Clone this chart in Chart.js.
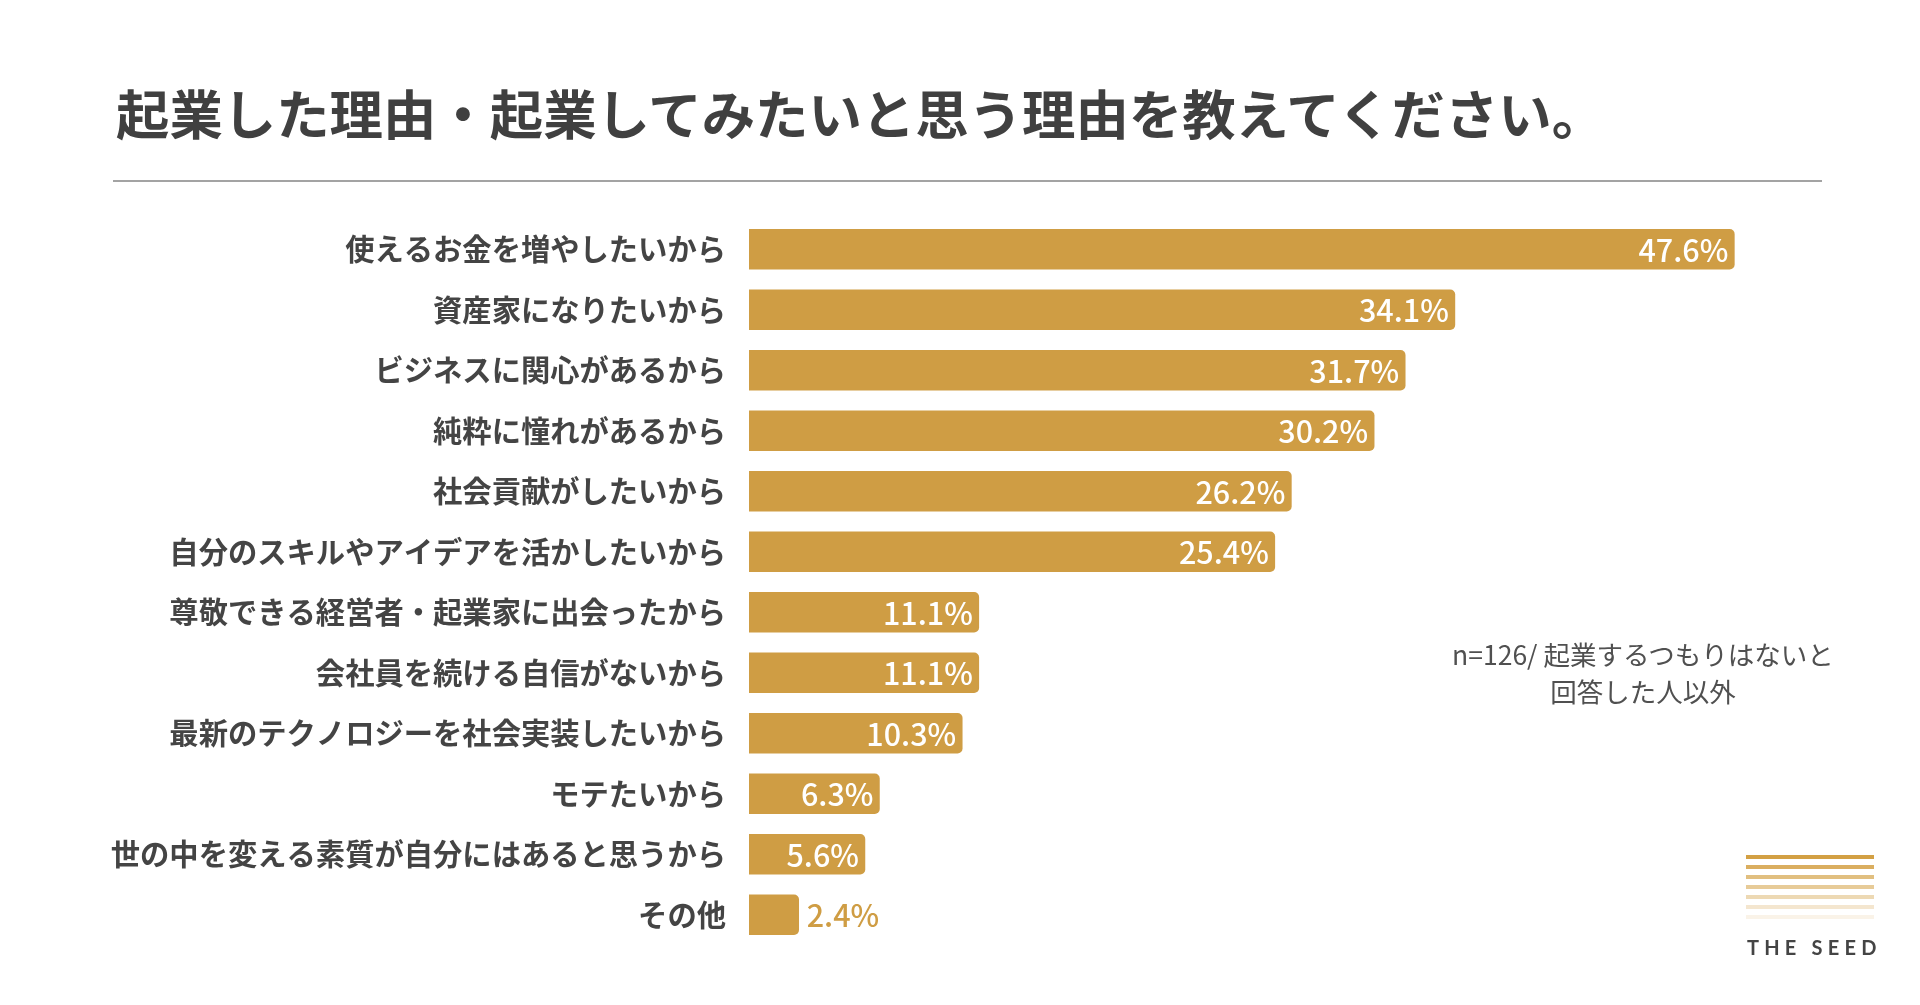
<!DOCTYPE html>
<html lang="ja">
<head>
<meta charset="utf-8">
<script src="https://cdn.jsdelivr.net/npm/chart.js@4.4.1/dist/chart.umd.min.js"></script>
<style>
  html, body { margin:0; padding:0; background:#fff; width:1920px; height:1005px; overflow:hidden; }
  body { position:relative; font-family:"Noto Sans CJK JP", "Noto Sans", sans-serif; }
  #chart { position:absolute; left:0; top:0; }
  #title { position:absolute; left:116px; top:84px; font-size:53.4px; font-weight:700; color:#404040; line-height:56px; white-space:nowrap; }
  #rule { position:absolute; left:113px; top:180px; width:1709px; height:2px; background:#a3a3a3; }
  #note { position:absolute; left:1443px; width:400px; top:635px; text-align:center; font-size:26.5px; line-height:37px; color:#505050; }
  #logo { position:absolute; left:1746px; top:855px; width:128px; }
  #logo div { height:4px; margin-bottom:6px; background:#d3a044; }
  #seed { position:absolute; left:1747px; top:934px; font-family:"Lato","Open Sans",sans-serif; font-weight:700; font-size:20px; letter-spacing:5.2px; color:#444; line-height:26px; white-space:nowrap; }
</style>
</head>
<body>
<canvas id="chart" width="1920" height="1005"></canvas>
<div id="title">起業した理由・起業してみたいと思う理由を教えてください。</div>
<div id="rule"></div>
<div id="note">n=126/ 起業するつもりはないと<br>回答した人以外</div>
<div id="logo">
  <div style="opacity:1"></div>
  <div style="opacity:0.85"></div>
  <div style="opacity:0.68"></div>
  <div style="opacity:0.55"></div>
  <div style="opacity:0.4"></div>
  <div style="opacity:0.26"></div>
  <div style="opacity:0.12"></div>
</div>
<div id="seed">THE SEED</div>
<script>
const categories = [
  "使えるお金を増やしたいから",
  "資産家になりたいから",
  "ビジネスに関心があるから",
  "純粋に憧れがあるから",
  "社会貢献がしたいから",
  "自分のスキルやアイデアを活かしたいから",
  "尊敬できる経営者・起業家に出会ったから",
  "会社員を続ける自信がないから",
  "最新のテクノロジーを社会実装したいから",
  "モテたいから",
  "世の中を変える素質が自分にはあると思うから",
  "その他"
];
const values = [47.6, 34.1, 31.7, 30.2, 26.2, 25.4, 11.1, 11.1, 10.3, 6.3, 5.6, 2.4];
const axisMax = 50;

const BAR_COLOR = "#cf9d44";

const valueLabels = {
  id: "valueLabels",
  afterDatasetsDraw(chart) {
    const ctx = chart.ctx;
    const meta = chart.getDatasetMeta(0);
    ctx.save();
    ctx.font = '500 30.5px "Noto Sans CJK JP", "Noto Sans", sans-serif';
    ctx.textBaseline = "middle";
    meta.data.forEach((bar, i) => {
      const txt = values[i].toFixed(1) + "%";
      const w = ctx.measureText(txt).width;
      const barLen = bar.x - bar.base;
      if (barLen > w + 16) {
        ctx.fillStyle = "#ffffff";
        ctx.textAlign = "right";
        ctx.fillText(txt, bar.x - 6, bar.y + 1);
      } else {
        ctx.fillStyle = BAR_COLOR;
        ctx.textAlign = "left";
        ctx.fillText(txt, bar.x + 8, bar.y + 1);
      }
    });
    ctx.restore();
  }
};

new Chart(document.getElementById("chart"), {
  type: "bar",
  data: {
    labels: categories,
    datasets: [{
      data: values,
      backgroundColor: BAR_COLOR,
      borderRadius: 5,
      borderSkipped: "start",
      barThickness: 40
    }]
  },
  options: {
    indexAxis: "y",
    responsive: false,
    animation: false,
    devicePixelRatio: 1,
    layout: { padding: { top: 219, bottom: 60, left: 0, right: 136 } },
    plugins: { legend: { display: false }, tooltip: { enabled: false } },
    scales: {
      x: { display: false, min: 0, max: axisMax },
      y: {
        grid: { display: false, drawTicks: false },
        border: { display: false },
        ticks: {
          color: "#444444",
          padding: 23,
          font: { family: '"Noto Sans CJK JP", "Noto Sans", sans-serif', size: 29.3, weight: "bold" }
        },
        afterFit(scale) { scale.width = 749; }
      }
    }
  },
  plugins: [valueLabels]
});
</script>
</body>
</html>
